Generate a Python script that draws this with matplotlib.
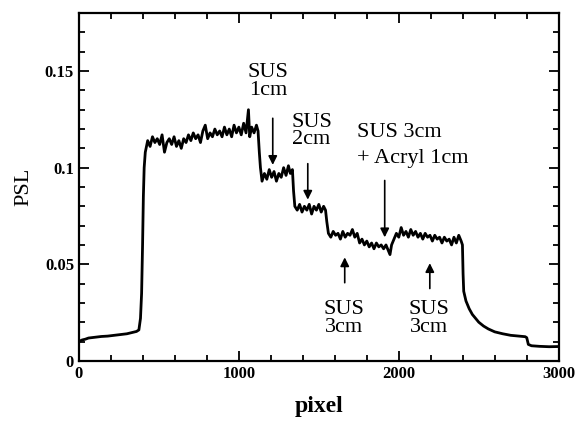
import matplotlib
matplotlib.use("Agg")
import matplotlib.pyplot as plt
from matplotlib.ticker import MultipleLocator

plt.rcParams['font.family'] = ['Liberation Serif', 'DejaVu Serif']

# profile (pixel, PSL)
px = [0, 20, 40, 60, 80, 100, 140, 180, 220, 260, 300, 340, 360, 375,
      385, 392, 398, 403, 408, 415, 425,
      430, 445, 460, 475, 490, 505, 520, 535, 550, 565, 580, 595, 610, 625, 640, 655,
      670, 685, 700, 715, 730, 745, 760, 775, 790, 805, 820, 835, 850, 865, 880, 895,
      910, 925, 940, 955, 970, 985, 1000, 1015, 1030, 1045, 1060, 1068, 1080, 1095,
      1110, 1120,
      1128, 1135, 1145, 1160, 1175, 1190, 1205, 1220, 1235, 1250, 1265, 1280, 1295,
      1310, 1322, 1335,
      1342, 1350, 1365, 1380, 1395, 1410, 1425, 1440, 1455, 1470, 1485, 1500, 1515,
      1530, 1542,
      1550, 1560, 1575, 1590, 1605, 1620, 1635, 1650, 1665, 1680, 1695, 1710, 1725,
      1740, 1755, 1770, 1785, 1800, 1815, 1830, 1845, 1860, 1875, 1890, 1905, 1920,
      1935, 1945, 1955, 1970, 1985, 2000, 2015, 2030, 2045, 2060, 2075, 2090, 2105,
      2120, 2135, 2150, 2165, 2180, 2195, 2210, 2225, 2240, 2255, 2270, 2285, 2300,
      2315, 2330, 2345, 2360, 2375, 2390, 2398,
      2402, 2406, 2420, 2440, 2460, 2480, 2500, 2530, 2560, 2600, 2650, 2700, 2750,
      2790, 2800, 2810, 2830, 2880, 2940, 3000]
psl = [0.0100, 0.0108, 0.0112, 0.0118, 0.0120, 0.0122, 0.0126, 0.0128, 0.0132, 0.0136, 0.0140, 0.0148, 0.0152, 0.0160,
       0.022, 0.035, 0.060, 0.085, 0.100, 0.108, 0.112,
       0.114, 0.111, 0.116, 0.113, 0.115, 0.112, 0.117, 0.108, 0.113, 0.115, 0.112, 0.116, 0.111, 0.114, 0.110, 0.115,
       0.113, 0.117, 0.114, 0.118, 0.115, 0.117, 0.113, 0.119, 0.122, 0.115, 0.118, 0.116, 0.120, 0.117, 0.119, 0.116,
       0.121, 0.117, 0.120, 0.116, 0.122, 0.118, 0.121, 0.117, 0.123, 0.118, 0.130, 0.116, 0.121, 0.118,
       0.122, 0.119,
       0.108, 0.100, 0.093, 0.097, 0.094, 0.099, 0.095, 0.098, 0.093, 0.097, 0.095, 0.100, 0.096,
       0.101, 0.097, 0.099,
       0.088, 0.080, 0.078, 0.081, 0.077, 0.080, 0.078, 0.081, 0.076, 0.080, 0.078, 0.081, 0.077,
       0.080, 0.078,
       0.072, 0.066, 0.064, 0.067, 0.065, 0.066, 0.063, 0.067, 0.064, 0.066, 0.065, 0.068, 0.064,
       0.066, 0.061, 0.063, 0.060, 0.062, 0.059, 0.061, 0.058, 0.061, 0.059, 0.060, 0.058, 0.060,
       0.057, 0.055, 0.060, 0.063, 0.066, 0.064, 0.069, 0.065, 0.067, 0.064, 0.068, 0.065, 0.067,
       0.064, 0.066, 0.063, 0.066, 0.064, 0.065, 0.062, 0.065, 0.063, 0.064, 0.061, 0.064, 0.062,
       0.063, 0.060, 0.064, 0.061, 0.065, 0.062, 0.060,
       0.045, 0.036, 0.031, 0.027, 0.024, 0.022, 0.020, 0.018, 0.0165, 0.015, 0.014, 0.0132, 0.0128,
       0.0125, 0.0120, 0.0085, 0.0078, 0.0075, 0.0073, 0.0074]

# labels: text, text position, arrow tail, arrow head
labels = ["SUS\n1cm", "SUS\n2cm", "SUS\n3cm", "SUS\n3cm"]
label_xy = [(1181, 0.1445), (1455, 0.1190), (1656, 0.0218), (2187, 0.0218)]
arrow_from = [(1212, 0.127), (1431, 0.1035), (1662, 0.039), (2194, 0.036)]
arrow_to = [(1212, 0.100), (1431, 0.082), (1662, 0.055), (2194, 0.052)]

fig = plt.figure(figsize=(5.76, 4.24), dpi=100)
ax = fig.add_axes([0.137, 0.149, 0.833, 0.820])
ax.plot(px, psl, color='black', lw=2.0)

for t, (tx, ty) in zip(labels, label_xy):
    ax.text(tx, ty, t, ha='center', va='center', fontsize=16, linespacing=0.9)
for a, b in zip(arrow_from, arrow_to):
    ax.annotate("", xy=b, xytext=a,
                arrowprops=dict(arrowstyle='-|>', color='black', lw=1.2, mutation_scale=13))

ax.text(1737, 0.1180, "SUS 3cm", ha='left', va='center', fontsize=16)
ax.text(1737, 0.1045, "+ Acryl 1cm", ha='left', va='center', fontsize=16)
ax.annotate("", xy=(1912, 0.0625), xytext=(1912, 0.0948),
            arrowprops=dict(arrowstyle='-|>', color='black', lw=1.2, mutation_scale=13))

ax.set_xlim(0, 3000)
ax.set_ylim(0, 0.18)
ax.set_xticks([0, 1000, 2000, 3000])
ax.set_xticklabels(["0", "1000", "2000", "3000"])
ax.set_yticks([0, 0.05, 0.1, 0.15])
ax.set_yticklabels(["0", "0.05", "0.1", "0.15"])
ax.xaxis.set_minor_locator(MultipleLocator(200))
ax.yaxis.set_minor_locator(MultipleLocator(0.01))
ax.tick_params(which='both', direction='in', top=True, right=True, width=1.3)
ax.tick_params(which='major', length=7, labelsize=12)
ax.tick_params(which='minor', length=4)
for lab in ax.get_xticklabels() + ax.get_yticklabels():
    lab.set_fontweight('bold')
for s in ax.spines.values():
    s.set_linewidth(1.6)

ax.set_xlabel("pixel", fontsize=17, fontweight='bold', labelpad=10)
ax.set_ylabel("PSL", fontsize=16, labelpad=8)

fig.savefig("out.png", dpi=100)
